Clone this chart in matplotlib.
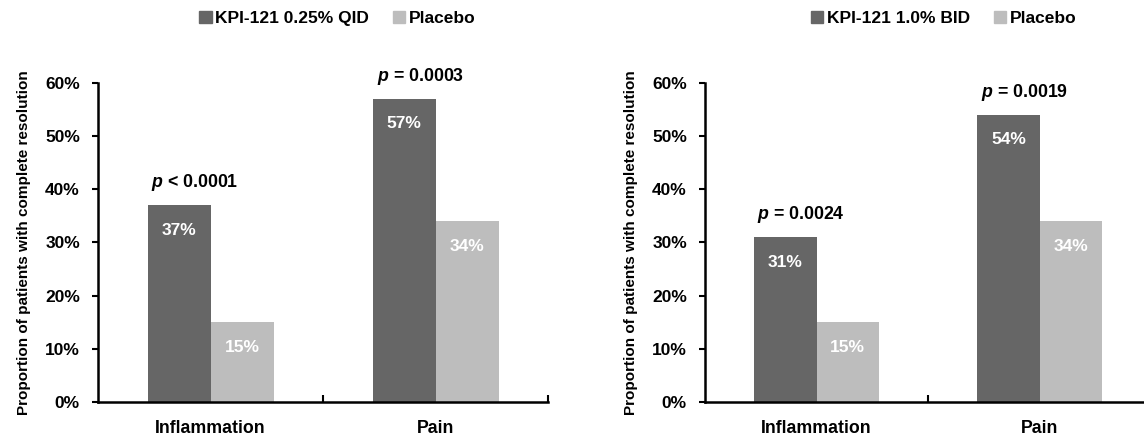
import matplotlib.pyplot as plt
from matplotlib.patches import Patch
from matplotlib.ticker import FuncFormatter, FixedLocator

categories = ['Inflammation', 'Pain']
left_drug = [37, 57]
left_placebo = [15, 34]
left_pvals = [r'$\mathit{p}$ < 0.0001', r'$\mathit{p}$ = 0.0003']
left_name = 'KPI-121 0.25% QID'
right_drug = [31, 54]
right_placebo = [15, 34]
right_pvals = [r'$\mathit{p}$ = 0.0024', r'$\mathit{p}$ = 0.0019']
right_name = 'KPI-121 1.0% BID'
yticks = [0, 10, 20, 30, 40, 50, 60]

DARK = '#666666'
LIGHT = '#bdbdbd'
plt.rcParams['font.family'] = ['Liberation Sans', 'DejaVu Sans']
plt.rcParams['font.weight'] = 'bold'
plt.rcParams['mathtext.fontset'] = 'custom'
plt.rcParams['mathtext.it'] = 'Liberation Sans:italic:bold'
plt.rcParams['mathtext.rm'] = 'Liberation Sans:bold'

fig = plt.figure(figsize=(11.44, 4.43), dpi=100)


def panel(rect, drug, placebo, pvals, name, legend_x):
    ax = fig.add_axes(rect)
    x = list(range(len(categories)))
    w = 0.28
    ax.bar([i - w / 2 for i in x], drug, w, color=DARK, linewidth=0)
    ax.bar([i + w / 2 for i in x], placebo, w, color=LIGHT, linewidth=0)
    for i in x:
        ax.text(i - w / 2, drug[i] - 4.7, f'{drug[i]}%', ha='center', va='center',
                color='white', fontsize=12.5, fontweight='bold')
        ax.text(i + w / 2, placebo[i] - 4.7, f'{placebo[i]}%', ha='center', va='center',
                color='white', fontsize=12.5, fontweight='bold')
        ax.text(i - w / 2 + 0.07, drug[i] + 4.2, pvals[i], ha='center', va='center',
                fontsize=12.8, fontweight='bold')
    ax.set_xlim(-0.5, 1.5)
    ax.set_ylim(0, 60)
    ax.set_yticks(yticks)
    ax.yaxis.set_major_formatter(FuncFormatter(lambda v, p: f'{v:.0f}%'))
    ax.set_xticks(x)
    ax.set_xticklabels(categories, fontsize=12.8, fontweight='bold')
    ax.xaxis.set_minor_locator(FixedLocator([0.5, 1.5]))
    ax.tick_params(axis='x', which='major', length=0, pad=13)
    ax.tick_params(axis='x', which='minor', direction='in', length=5, width=1.5)
    ax.tick_params(axis='y', direction='out', length=4, width=1.5, labelsize=12.5, pad=9)
    for s in ['top', 'right']:
        ax.spines[s].set_visible(False)
    for s in ['left', 'bottom']:
        ax.spines[s].set_linewidth(1.8)
    ax.set_ylabel('Proportion of patients with complete resolution', fontsize=11,
                  fontweight='bold', labelpad=10)
    handles = [Patch(color=DARK, label=name), Patch(color=LIGHT, label='Placebo')]
    fig.legend(handles=handles, loc='center', bbox_to_anchor=(legend_x, 0.958), ncol=2,
               frameon=False, fontsize=12.5, handlelength=0.7, handleheight=0.7,
               handletextpad=0.2, columnspacing=1.4)
    return ax


panel([0.0857, 0.0926, 0.3937, 0.72], left_drug, left_placebo, left_pvals, left_name, 0.295)
panel([0.6163, 0.0926, 0.39, 0.72], right_drug, right_placebo, right_pvals, right_name, 0.825)

fig.savefig('out.png', dpi=100)
